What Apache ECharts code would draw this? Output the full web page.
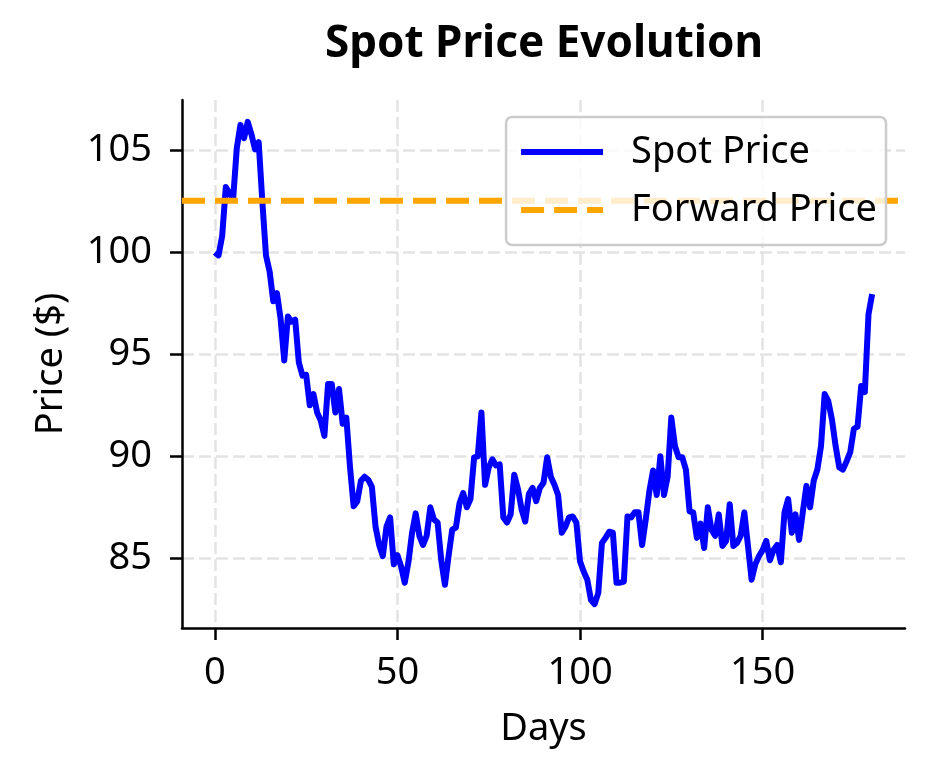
<!DOCTYPE html>
<html>
<head>
<meta charset="utf-8">
<script src="https://cdn.jsdelivr.net/npm/echarts@6/dist/echarts.min.js"></script>
<style>
html,body{margin:0;padding:0;background:#fff;}
#chart{width:934px;height:784px;}
</style>
</head>
<body>
<div id="chart"></div>
<script>
// Spot price by day (day index = position in array)
const spotPrice = [
  100.0, 99.85, 100.8, 103.2, 102.9, 102.6, 105.1, 106.25, 105.6, 106.4,
  105.8, 105.05, 105.4, 102.5, 99.85, 99.05, 97.6, 98.0, 96.75, 94.7,
  96.85, 96.6, 96.7, 94.6, 93.95, 94.0, 92.5, 93.05, 92.15, 91.75,
  91.0, 93.55, 93.55, 92.15, 93.3, 91.6, 91.9, 89.5, 87.55, 87.8,
  88.8, 89.0, 88.85, 88.5, 86.55, 85.65, 85.1, 86.55, 87.0, 84.7,
  85.15, 84.6, 83.8, 84.8, 86.25, 87.2, 86.1, 85.65, 86.1, 87.5,
  86.9, 86.75, 84.9, 83.7, 85.1, 86.4, 86.5, 87.7, 88.2, 87.5,
  87.9, 89.95, 90.0, 92.15, 88.6, 89.45, 89.85, 89.55, 89.6, 87.0,
  86.75, 87.15, 89.1, 88.4, 87.4, 86.8, 88.15, 88.45, 87.8, 88.45,
  88.7, 89.95, 89.0, 88.6, 88.1, 86.25, 86.55, 87.0, 87.05, 86.75,
  84.85, 84.35, 83.95, 82.95, 82.75, 83.3, 85.75, 86.0, 86.3, 86.25,
  83.8, 83.8, 83.85, 87.05, 87.0, 87.25, 87.25, 85.65, 86.9, 88.3,
  89.3, 88.1, 90.0, 88.1, 89.0, 91.9, 90.5, 89.95, 89.95, 89.35,
  87.3, 87.25, 86.0, 86.7, 85.5, 87.5, 86.4, 86.1, 87.15, 85.6,
  85.85, 87.65, 85.6, 85.75, 86.1, 87.25, 85.6, 83.95, 84.7, 85.1,
  85.4, 85.85, 84.9, 85.4, 85.65, 84.8, 87.25, 87.9, 86.25, 87.15,
  85.9, 87.25, 88.55, 87.5, 88.8, 89.35, 90.5, 93.05, 92.7, 91.8,
  90.5, 89.45, 89.35, 89.75, 90.2, 91.35, 91.45, 93.45, 93.15, 96.95,
  97.95
];
const forwardPrice = 102.53;
const xExtent = [-9, 189];
const yExtent = [81.58, 107.47];
const xTicks = [0, 50, 100, 150];
const yTicks = [85, 90, 95, 100, 105];
const seriesNames = ['Spot Price', 'Forward Price'];

const spotData = spotPrice.map((v, i) => [i, v]);
const fwdData = xExtent.map(x => [x, forwardPrice]);

const FONT = '"Noto Sans", "DejaVu Sans", sans-serif';
const FS = 38;
const chart = echarts.init(document.getElementById('chart'), null, {renderer: 'canvas'});

const gridLine = {show: true, lineStyle: {color: '#e3e3e3', width: 2.5, type: [12, 5]}};
const spotLine = {color: '#0000ff', width: 6, join: 'round', cap: 'butt'};
const fwdLine = {color: '#ffa500', width: 6, type: [23, 10], cap: 'butt'};

chart.setOption({
  animation: false,
  backgroundColor: '#ffffff',
  title: {
    text: 'Spot Price Evolution',
    left: 539,
    top: 17,
    textAlign: 'center',
    textStyle: {fontFamily: FONT, fontSize: 44, fontWeight: 'bold', color: '#000'}
  },
  legend: {
    orient: 'vertical',
    right: 48,
    top: 117,
    data: [
      {name: seriesNames[0], lineStyle: spotLine},
      {name: seriesNames[1], lineStyle: fwdLine}
    ],
    itemWidth: 82,
    itemHeight: 40,
    itemGap: 18,
    itemStyle: {opacity: 0, borderWidth: 0},
    lineStyle: {width: 6},
    padding: [15, 9, 15, 12],
    backgroundColor: 'rgba(255,255,255,0.8)',
    borderColor: '#cccccc',
    borderWidth: 2.5,
    borderRadius: 6,
    textStyle: {fontFamily: FONT, fontSize: FS, color: '#000', lineHeight: 40, padding: [0, 0, 0, 23]}
  },
  grid: {left: 182, right: 29, top: 100, bottom: 156, containLabel: false},
  xAxis: {
    type: 'value',
    min: xExtent[0],
    max: xExtent[1],
    name: 'Days',
    nameLocation: 'middle',
    nameGap: 82,
    nameTextStyle: {fontFamily: FONT, fontSize: FS, color: '#000'},
    axisLine: {show: true, onZero: false, lineStyle: {color: '#000', width: 2.5}},
    axisTick: {show: true, length: 12, lineStyle: {color: '#000', width: 2.5}, customValues: xTicks},
    axisLabel: {fontFamily: FONT, fontSize: FS, color: '#000', margin: 26, customValues: xTicks},
    splitLine: gridLine
  },
  yAxis: {
    type: 'value',
    min: yExtent[0],
    max: yExtent[1],
    name: 'Price ($)',
    nameLocation: 'middle',
    nameGap: 112,
    nameTextStyle: {fontFamily: FONT, fontSize: FS, color: '#000'},
    axisLine: {show: true, onZero: false, lineStyle: {color: '#000', width: 2.5}},
    axisTick: {show: true, length: 12, lineStyle: {color: '#000', width: 2.5}, customValues: yTicks},
    axisLabel: {fontFamily: FONT, fontSize: FS, color: '#000', margin: 30, customValues: yTicks},
    splitLine: gridLine
  },
  series: [
    {
      name: seriesNames[0],
      type: 'line',
      data: spotData,
      symbol: 'none',
      showSymbol: false,
      lineStyle: spotLine,
      itemStyle: {color: '#0000ff'},
      z: 2
    },
    {
      name: seriesNames[1],
      type: 'line',
      data: fwdData,
      symbol: 'none',
      showSymbol: false,
      lineStyle: fwdLine,
      itemStyle: {color: '#ffa500'},
      z: 3
    }
  ]
});
</script>
</body>
</html>
